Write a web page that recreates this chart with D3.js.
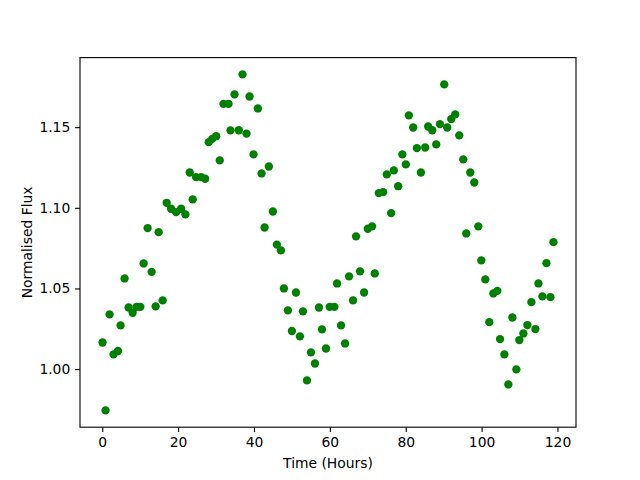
<!DOCTYPE html>
<html>
<head>
<meta charset="utf-8">
<script src="https://cdn.jsdelivr.net/npm/d3@7"></script>
<style>
  body { margin: 0; background: #fff; }
  text { font-family: "DejaVu Sans", sans-serif; }
</style>
</head>
<body>
<script>
'use strict';

// time in hours for each observation
const hours = [
  0.08, 0.87, 1.93, 2.98, 4.15, 4.83, 5.89, 6.95, 8.00, 9.06,
  10.04, 10.91, 11.96, 13.02, 14.08, 14.87, 15.93, 16.98, 18.15, 19.47,
  20.79, 21.92, 23.06, 23.85, 24.75, 26.07, 27.13, 28.08, 28.98, 30.03,
  30.98, 31.96, 33.28, 33.81, 34.87, 36.00, 36.98, 38.03, 38.83, 39.88,
  41.02, 42.00, 42.79, 43.92, 44.98, 46.04, 47.10, 47.89, 48.94, 50.00,
  51.06, 52.11, 52.91, 53.96, 55.02, 56.07, 57.13, 57.92, 58.98, 59.96,
  61.20, 61.89, 62.94, 64.00, 65.06, 66.11, 66.90, 67.96, 69.02, 70.00,
  71.13, 71.84, 72.90, 74.04, 75.01, 76.15, 76.86, 78.00, 79.11, 80.03,
  80.82, 81.96, 82.94, 84.00, 85.13, 85.92, 86.98, 88.04, 89.01, 90.15,
  90.94, 92.00, 93.05, 94.11, 95.17, 95.96, 97.01, 98.07, 99.13, 99.92,
  100.98, 102.03, 103.09, 104.15, 104.86, 106.00, 107.05, 108.11, 109.16, 109.96,
  111.01, 112.07, 113.13, 114.18, 114.98, 116.03, 117.09, 118.15, 118.94
];

// normalised flux for each observation
const flux = [
  1.0165, 0.9744, 1.0339, 1.0091, 1.0112, 1.0271, 1.0562, 1.0382, 1.0349, 1.0386,
  1.0386, 1.0655, 1.0874, 1.0603, 1.0389, 1.0849, 1.0426, 1.1031, 1.0994, 1.0973,
  1.0994, 1.0959, 1.1219, 1.1052, 1.1190, 1.1190, 1.1180, 1.1407, 1.1427, 1.1444,
  1.1294, 1.1644, 1.1644, 1.1480, 1.1703, 1.1481, 1.1827, 1.1460, 1.1690, 1.1331,
  1.1616, 1.1213, 1.0878, 1.1256, 1.0977, 1.0772, 1.0736, 1.0500, 1.0364, 1.0236,
  1.0475, 1.0203, 1.0358, 0.9930, 1.0104, 1.0035, 1.0382, 1.0246, 1.0128, 1.0386,
  1.0386, 1.0531, 1.0271, 1.0159, 1.0575, 1.0426, 1.0823, 1.0606, 1.0475, 1.0870,
  1.0885, 1.0593, 1.1091, 1.1097, 1.1207, 1.0967, 1.1232, 1.1134, 1.1331, 1.1269,
  1.1573, 1.1498, 1.1370, 1.1219, 1.1374, 1.1504, 1.1481, 1.1393, 1.1519, 1.1765,
  1.1498, 1.1550, 1.1579, 1.1449, 1.1300, 1.0841, 1.1219, 1.1157, 1.0885, 1.0674,
  1.0556, 1.0291, 1.0469, 1.0485, 1.0186, 1.0091, 0.9905, 1.0320, 0.9998, 1.0180,
  1.0221, 1.0273, 1.0415, 1.0248, 1.0531, 1.0451, 1.0657, 1.0446, 1.0787
];

const xTicks = [0, 20, 40, 60, 80, 100, 120];
const yTicks = [1.00, 1.05, 1.10, 1.15];

const width = 640, height = 480;
const plot = { left: 80, right: 576, top: 57.6, bottom: 427.2 };
const pt = 100 / 72; // matplotlib points to pixels

const svg = d3.select('body')
  .append('svg')
  .attr('width', width)
  .attr('height', height);

// pad the data extent by 5% like matplotlib does
function padded(values) {
  let [lo, hi] = d3.extent(values);
  let m = (hi - lo) * 0.05;
  return [lo - m, hi + m];
}

let xScale = d3.scaleLinear()
  .domain(padded(hours))
  .range([plot.left, plot.right]);

let yScale = d3.scaleLinear()
  .domain(padded(flux))
  .range([plot.bottom, plot.top]);

// points
let points = hours.map((h, i) => ({ h: h, f: flux[i] }));
svg.append('g')
  .selectAll('circle')
  .data(points)
  .enter()
  .append('circle')
    .attr('cx', (d) => xScale(d.h))
    .attr('cy', (d) => yScale(d.f))
    .attr('r', 3 * pt)
    .attr('fill', '#008000');

// axes
let xAxis = d3.axisBottom(xScale)
  .tickValues(xTicks)
  .tickFormat(d3.format('d'))
  .tickSize(3.5 * pt)
  .tickPadding(3.5 * pt)
  .tickSizeOuter(0);
let gx = svg.append('g')
  .attr('transform', `translate(0, ${plot.bottom})`)
  .call(xAxis);

let yAxis = d3.axisLeft(yScale)
  .tickValues(yTicks)
  .tickFormat(d3.format('.2f'))
  .tickSize(3.5 * pt)
  .tickPadding(3.5 * pt)
  .tickSizeOuter(0);
let gy = svg.append('g')
  .attr('transform', `translate(${plot.left}, 0)`)
  .call(yAxis);

[gx, gy].forEach((g) => {
  g.select('.domain').remove();
  g.selectAll('line').attr('stroke', '#000').attr('stroke-width', 0.8 * pt);
  g.selectAll('text')
    .attr('fill', '#000')
    .style('font-size', (10 * pt) + 'px')
    .style('font-family', '"DejaVu Sans", sans-serif');
});

// frame
svg.append('rect')
  .attr('x', plot.left)
  .attr('y', plot.top)
  .attr('width', plot.right - plot.left)
  .attr('height', plot.bottom - plot.top)
  .attr('fill', 'none')
  .attr('stroke', '#000')
  .attr('stroke-width', 0.8 * pt);

// labels
svg.append('text')
  .attr('x', (plot.left + plot.right) / 2)
  .attr('y', 468)
  .attr('text-anchor', 'middle')
  .style('font-size', (10 * pt) + 'px')
  .text('Time (Hours)');

svg.append('text')
  .attr('transform', `translate(32, ${(plot.top + plot.bottom) / 2}) rotate(-90)`)
  .attr('text-anchor', 'middle')
  .style('font-size', (10 * pt) + 'px')
  .text('Normalised Flux');
</script>
</body>
</html>
